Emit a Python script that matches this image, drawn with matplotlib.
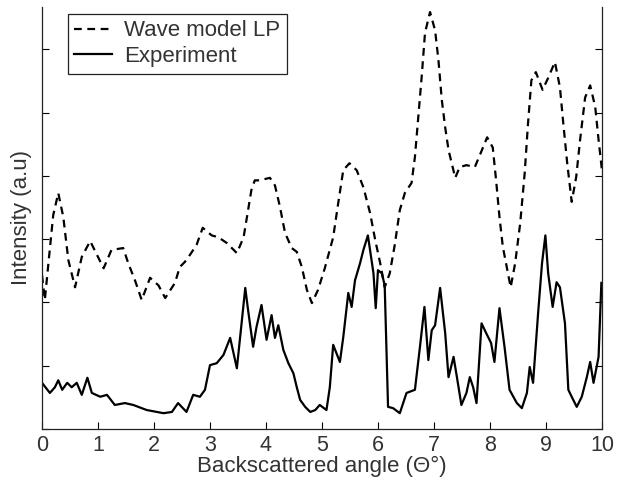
import numpy as np
import matplotlib
matplotlib.use('Agg')
import matplotlib.pyplot as plt

# --- DADOS ---
# Wave model LP (tracejado)
ang_modelo = [0.00, 0.05, 0.12, 0.20, 0.29, 0.38, 0.47, 0.59, 0.71, 0.86,
              1.10, 1.24, 1.45, 1.54, 1.66, 1.78, 1.93, 2.08, 2.20, 2.375,
              2.46, 2.55, 2.64, 2.76, 2.87, 3.03, 3.15, 3.30, 3.48, 3.60,
              3.66, 3.74, 3.80, 3.89, 4.07, 4.16, 4.25, 4.34, 4.46, 4.55,
              4.64, 4.73, 4.82, 4.93, 5.05, 5.20, 5.29, 5.38, 5.49, 5.62,
              5.74, 5.86, 5.95, 6.04, 6.12, 6.21, 6.30, 6.39, 6.48, 6.60,
              6.66, 6.72, 6.78, 6.84, 6.93, 7.02, 7.08, 7.14, 7.20, 7.26,
              7.38, 7.46, 7.58, 7.73, 7.82, 7.95, 8.05, 8.11, 8.17, 8.23,
              8.30, 8.37, 8.45, 8.54, 8.62, 8.68, 8.74, 8.82, 8.94, 9.04,
              9.16, 9.25, 9.31, 9.38, 9.46, 9.54, 9.61, 9.70, 9.79, 9.88,
              9.94, 10.0]
int_modelo = [2.43, 2.04, 2.67, 3.38, 3.73, 3.35, 2.67, 2.24, 2.72, 2.97,
              2.54, 2.83, 2.86, 2.62, 2.35, 2.04, 2.39, 2.27, 2.07, 2.31,
              2.56, 2.64, 2.75, 2.91, 3.18, 3.06, 3.03, 2.94, 2.78, 3.03,
              3.35, 3.78, 3.93, 3.93, 3.97, 3.85, 3.51, 3.10, 2.86, 2.80,
              2.56, 2.20, 1.99, 2.20, 2.54, 3.03, 3.57, 4.09, 4.20, 4.09,
              3.82, 3.41, 2.99, 2.62, 2.24, 2.46, 2.91, 3.46, 3.73, 3.89,
              4.30, 4.93, 5.56, 6.26, 6.59, 6.30, 5.83, 5.20, 4.77, 4.41,
              3.97, 4.14, 4.17, 4.14, 4.33, 4.61, 4.45, 3.93, 3.35, 2.88,
              2.56, 2.24, 2.62, 3.25, 4.04, 4.83, 5.51, 5.64, 5.36, 5.55,
              5.80, 5.40, 4.83, 4.20, 3.59, 3.98, 4.57, 5.24, 5.43, 5.09,
              4.57, 4.09]

# Experiment (linha cheia)
ang_exp = [0.00, 0.14, 0.23, 0.29, 0.36, 0.45, 0.53, 0.62, 0.71, 0.81,
           0.89, 1.04, 1.16, 1.30, 1.48, 1.63, 1.87, 2.05, 2.17, 2.32,
           2.43, 2.58, 2.70, 2.82, 2.91, 3.00, 3.12, 3.24, 3.36, 3.42,
           3.48, 3.57, 3.63, 3.68, 3.77, 3.83, 3.92, 4.01, 4.10, 4.16,
           4.22, 4.31, 4.40, 4.49, 4.55, 4.61, 4.70, 4.79, 4.88, 4.96,
           5.08, 5.14, 5.20, 5.32, 5.38, 5.47, 5.53, 5.59, 5.68, 5.74,
           5.82, 5.92, 5.96, 6.00, 6.07, 6.12, 6.18, 6.27, 6.39, 6.51,
           6.66, 6.75, 6.83, 6.90, 6.96, 7.02, 7.11, 7.20, 7.26, 7.35,
           7.41, 7.49, 7.58, 7.64, 7.70, 7.76, 7.85, 7.93, 8.02, 8.08,
           8.17, 8.26, 8.35, 8.48, 8.57, 8.66, 8.71, 8.77, 8.86, 8.93,
           8.99, 9.04, 9.12, 9.19, 9.25, 9.34, 9.40, 9.46, 9.55, 9.64,
           9.73, 9.79, 9.85, 9.94, 9.99]
int_exp = [0.73, 0.57, 0.66, 0.77, 0.62, 0.73, 0.66, 0.73, 0.54, 0.81,
           0.57, 0.51, 0.54, 0.38, 0.41, 0.38, 0.30, 0.27, 0.25, 0.27,
           0.41, 0.27, 0.54, 0.51, 0.62, 1.01, 1.04, 1.17, 1.44, 1.20,
           0.96, 1.72, 2.23, 1.88, 1.30, 1.61, 1.96, 1.41, 1.80, 1.44,
           1.64, 1.25, 1.04, 0.88, 0.66, 0.46, 0.35, 0.27, 0.30, 0.38,
           0.30, 0.66, 1.33, 1.06, 1.45, 2.15, 1.93, 2.35, 2.62, 2.83,
           3.06, 2.46, 1.91, 2.51, 2.46, 2.27, 0.35, 0.33, 0.25, 0.57,
           0.62, 1.30, 1.93, 1.09, 1.56, 1.64, 2.23, 1.52, 0.82, 1.14,
           0.82, 0.38, 0.57, 0.82, 0.66, 0.41, 1.67, 1.52, 1.36, 1.06,
           1.91, 1.30, 0.62, 0.41, 0.33, 0.57, 0.98, 0.73, 1.83, 2.62,
           3.06, 2.46, 1.93, 2.32, 2.24, 1.67, 0.62, 0.51, 0.35, 0.51,
           0.82, 1.06, 0.73, 1.14, 2.31]

x_ticks = list(range(0, 11))

# --- VISUAL ---
plt.rcParams['font.family'] = ['Liberation Sans', 'DejaVu Sans']
fig = plt.figure(figsize=(6.18, 4.84), dpi=100)
ax = fig.add_axes([0.068, 0.1136, 0.906, 0.872])

ax.plot(ang_modelo, int_modelo, color='black', lw=1.6, ls=(0, (3.5, 2.5)),
        label='Wave model LP')
ax.plot(ang_exp, int_exp, color='black', lw=1.6, label='Experiment')

ax.set_xlim(0, 10)
ax.set_ylim(0, 6.67)
ax.set_xticks(x_ticks)
ax.set_yticks(range(0, 7))
ax.set_yticklabels([])

ax.spines['top'].set_visible(False)
for s in ['left', 'right', 'bottom']:
    ax.spines[s].set_color('#222222')
    ax.spines[s].set_linewidth(0.9)

ax.tick_params(axis='x', direction='in', length=5, labelsize=15.5,
               labelcolor='#333333', pad=4)
ax.tick_params(axis='y', direction='in', length=5, left=True, right=True)

ax.set_xlabel('Backscattered angle (\u0398\u00b0)', fontsize=16,
              color='#333333', labelpad=0)
ax.set_ylabel('Intensity (a.u)', fontsize=16, color='#333333', labelpad=4)

leg = ax.legend(loc='upper left', bbox_to_anchor=(0.046, 0.984),
                fontsize=16, handlelength=1.7, fancybox=False,
                framealpha=1, borderpad=0.3, labelspacing=0.2,
                handletextpad=0.55, borderaxespad=0)
leg.get_frame().set_edgecolor('#222222')
leg.get_frame().set_linewidth(0.9)
for t in leg.get_texts():
    t.set_color('#333333')

fig.savefig('out.png', dpi=100)
